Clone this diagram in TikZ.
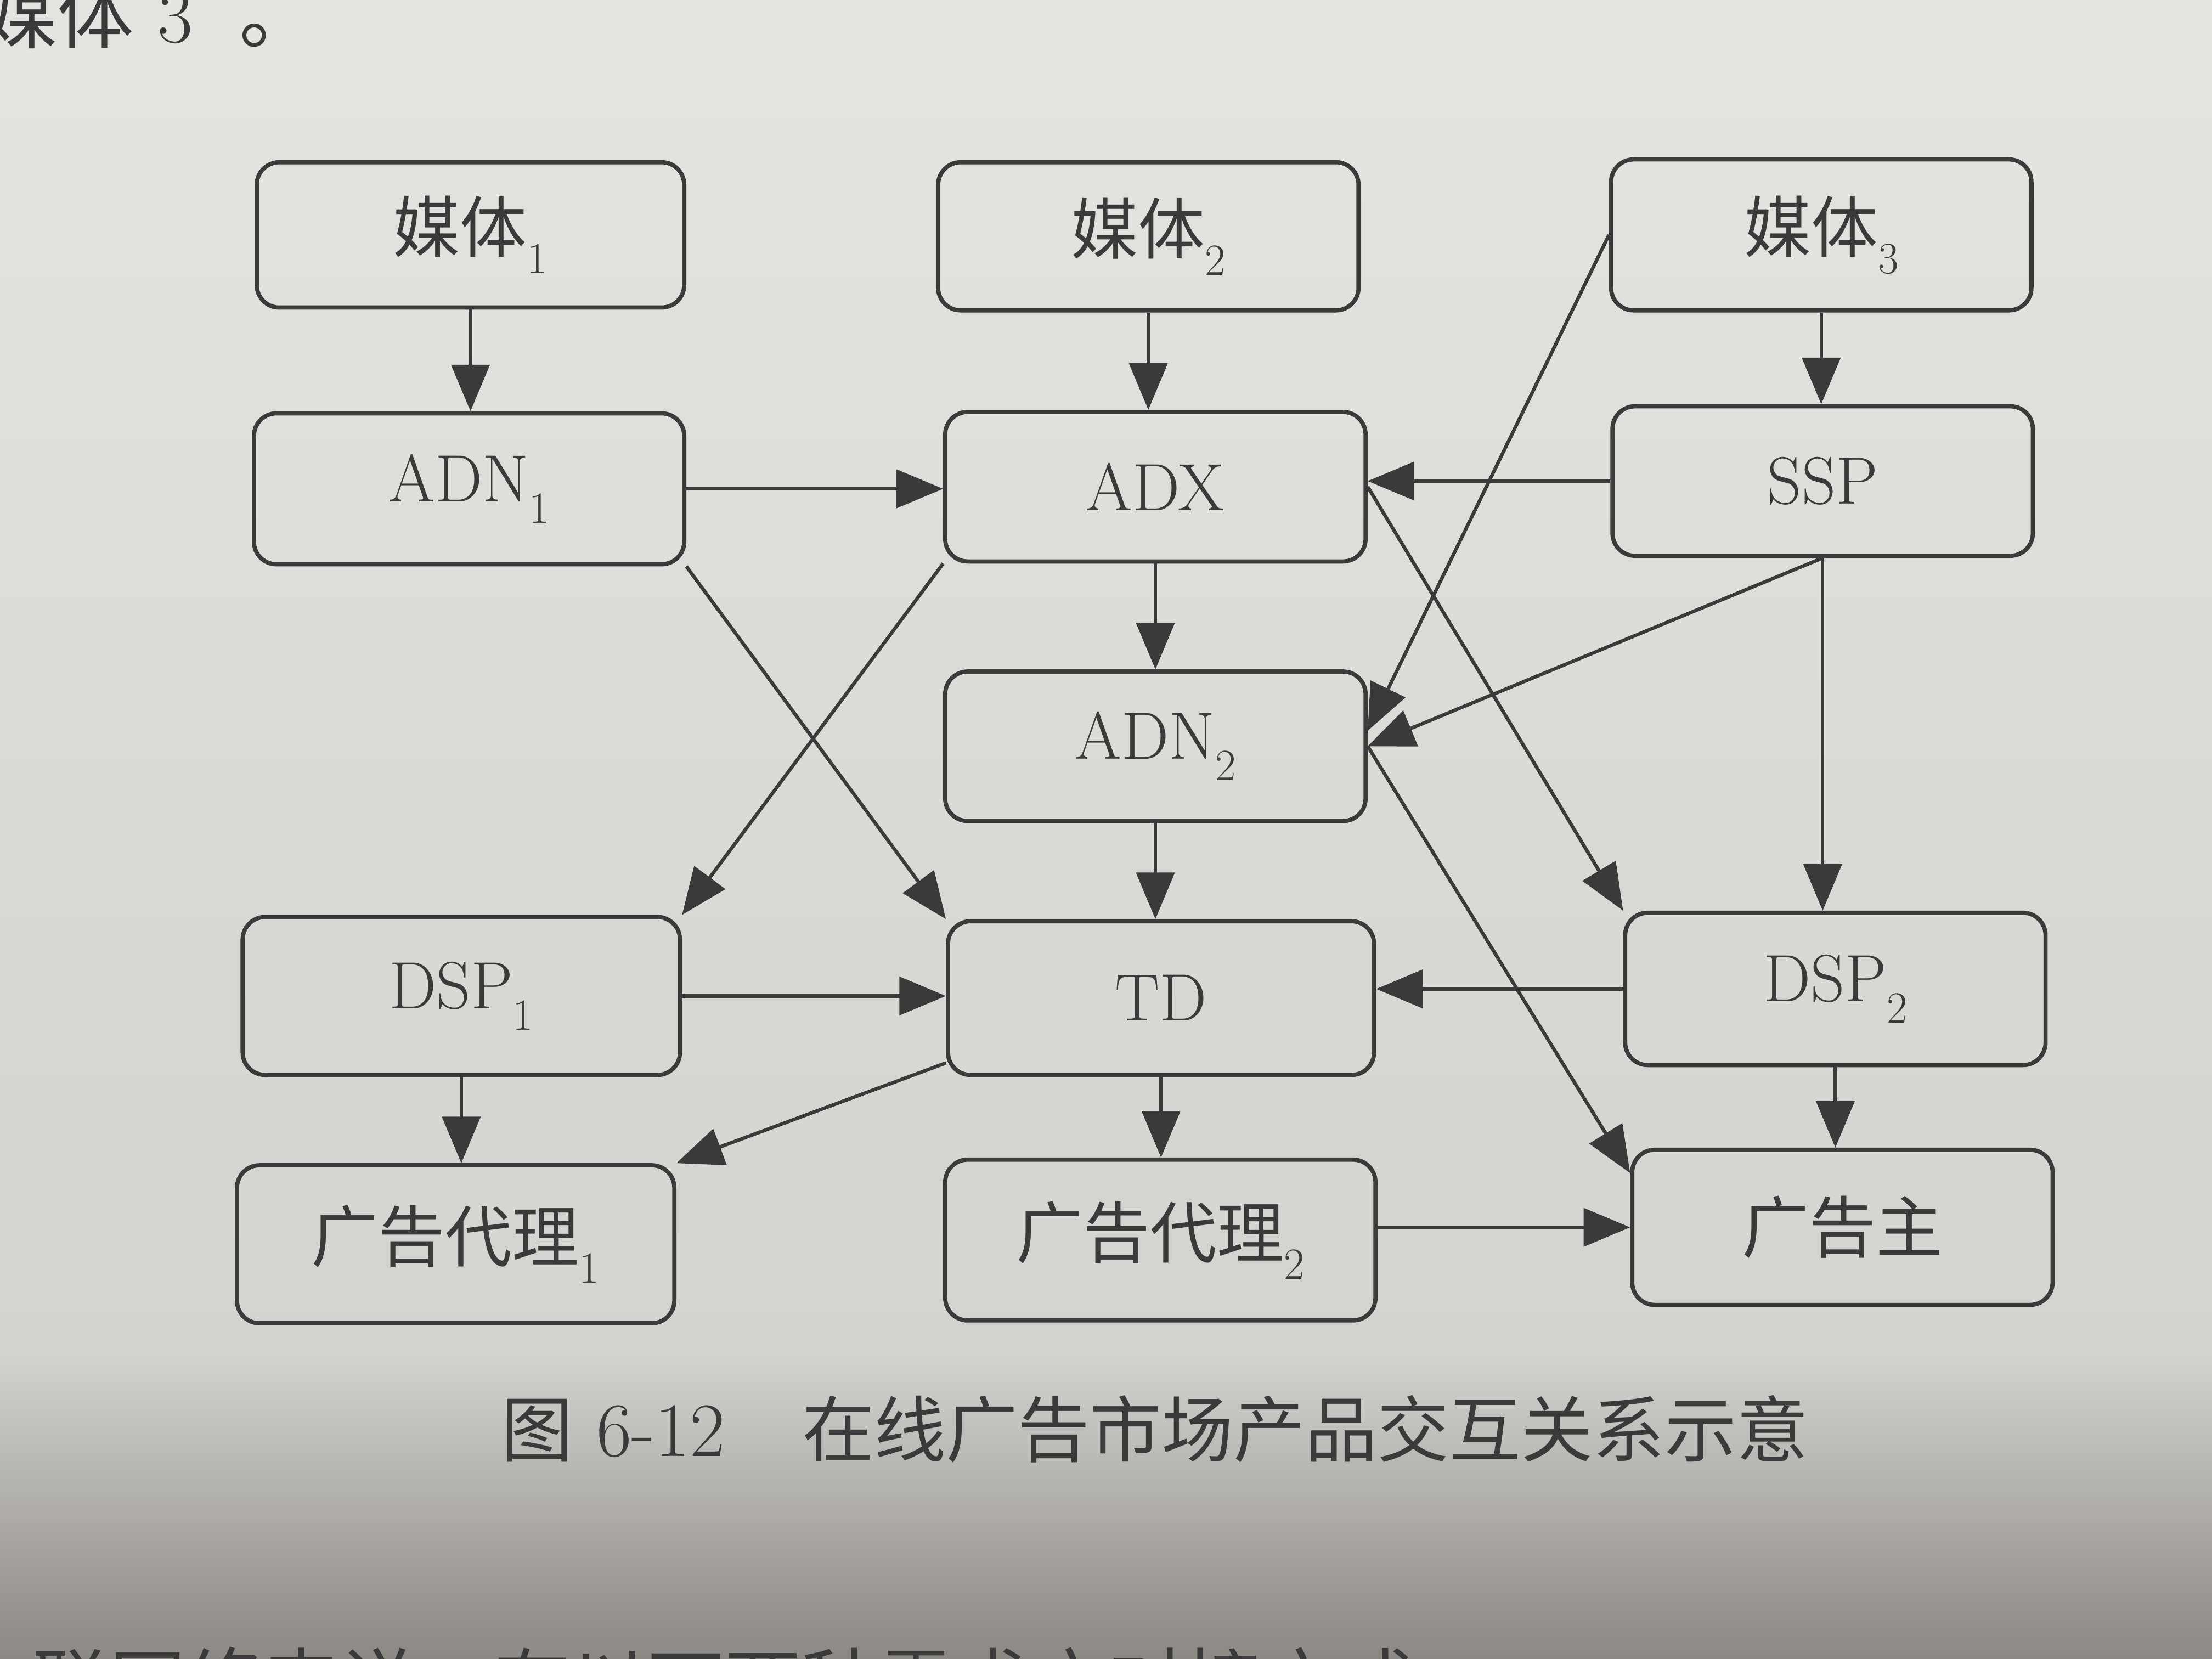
\documentclass[tikz,border=0pt]{standalone}
\usepackage{fontspec}
\newfontfamily\cjk{Noto Sans CJK SC}
\usetikzlibrary{arrows.meta}
\definecolor{ink}{RGB}{58,58,58}
\definecolor{paperA}{RGB}{229,228,224}
\definecolor{paperB}{RGB}{212,211,208}
\definecolor{paperC}{RGB}{140,136,132}
\newcommand\sbs[1]{\raisebox{-0.32em}{\fontsize{18}{18}\selectfont #1}}
\begin{document}
\begin{tikzpicture}[x=0.02cm,y=-0.02cm,
  box/.style 2 args={draw=ink, line width=1.7pt, rounded corners=0.32cm,
    minimum width=#1*0.02cm, minimum height=#2*0.02cm, inner sep=0pt,
    text=ink, font=\fontsize{27}{32}\selectfont},
  arr/.style={draw=ink, line width=1.4pt, -{Triangle[length=0.66cm,width=0.54cm]}},
  txt/.style={text=ink, inner sep=0pt},
]
\useasboundingbox (0,0) rectangle (1568,1176);
\clip (0,0) rectangle (1568,1176);
\shade[top color=paperA, bottom color=paperB] (0,0) rectangle (1568,960);
\shade[top color=paperB, bottom color=paperC] (0,959) rectangle (1568,1176);

% page text fragments
\node[txt, anchor=base west, font=\fontsize{31}{36}\selectfont] (toptext) at (-14,30)
  {{\cjk 媒体}\ 3\ \ {\cjk 。}};
\node[txt, anchor=base east, font=\fontsize{31}{36}\selectfont] (bottomtext) at (1004,1214)
  {{\cjk 联网络来说，有以下两种需求方对接方式}};

% boxes
\node[box={303}{103}] (m1)   at (333.5,166.5) {{\cjk 媒体}\sbs{1}};
\node[box={298}{105}] (m2)   at (814,167.5)   {{\cjk 媒体}\sbs{2}};
\node[box={298}{107}] (m3)   at (1291,166.5)  {{\cjk 媒体}\sbs{3}};
\node[box={305}{107}] (adn1) at (332.5,346.5) {ADN\sbs{1}};
\node[box={298}{106}] (adx)  at (819,345)     {ADX};
\node[box={298}{106}] (ssp)  at (1292,341)    {SSP};
\node[box={298}{106}] (adn2) at (819,529)     {ADN\sbs{2}};
\node[box={310}{112}] (dsp1) at (327,706)     {DSP\sbs{1}};
\node[box={302}{109}] (td)   at (823,707.5)   {TD};
\node[box={298}{108}] (dsp2) at (1301,701)    {DSP\sbs{2}};
\node[box={310}{112}] (ag1)  at (323,882)     {{\cjk 广告代理}\sbs{1}};
\node[box={305}{114}] (ag2)  at (822.5,879)   {{\cjk 广告代理}\sbs{2}};
\node[box={298}{110}] (adv)  at (1306,870)    {{\cjk 广告主}};

% connectors
\draw[arr] (m1.south) -- (m1.south |- adn1.north);
\draw[arr] (m2.south) -- (m2.south |- adx.north);
\draw[arr] (m3.south) -- (m3.south |- ssp.north);
\draw[arr] (adn1.east) -- (adn1.east -| adx.west);
\draw[arr] (ssp.west) -- (ssp.west -| adx.east);
\draw[arr] (adx.south) -- (adx.south |- adn2.north);
\draw[arr] (adn2.south) -- (adn2.south |- td.north);
\draw[arr] (td.south) -- (td.south |- ag2.north);
\draw[arr] (dsp1.south) -- (dsp1.south |- ag1.north);
\draw[arr] (dsp2.south) -- (dsp2.south |- adv.north);
\draw[arr] (dsp1.east) -- (dsp1.east -| td.west);
\draw[arr] (dsp2.west) -- (dsp2.west -| td.east);
\draw[arr] (ag2.east |- adv.west) -- (adv.west);
\draw[arr] (adn1.south east) -- (td.north west);
\draw[arr] (adx.south west) -- (dsp1.north east);
\draw[arr] (adx.east) -- (dsp2.north west);
\draw[arr] (m3.west) -- ([yshift=0.22cm]adn2.east);
\draw[arr] (ssp.south) -- (adn2.east);
\draw[arr] (ssp.south) -- (ssp.south |- dsp2.north);
\draw[arr] (adn2.east) -- ([yshift=-0.36cm]adv.north west);
\draw[arr] ([yshift=0.2cm]td.south west) -- (ag1.north east);

% caption
\node[txt, anchor=west, font=\fontsize{31}{36}\selectfont] (caption) at (355,1013)
  {{\cjk\fontsize{29}{34}\selectfont 图}\ 6-12\quad{\cjk\fontsize{29}{34}\selectfont 在线广告市场产品交互关系示意}};
\end{tikzpicture}
\end{document}
